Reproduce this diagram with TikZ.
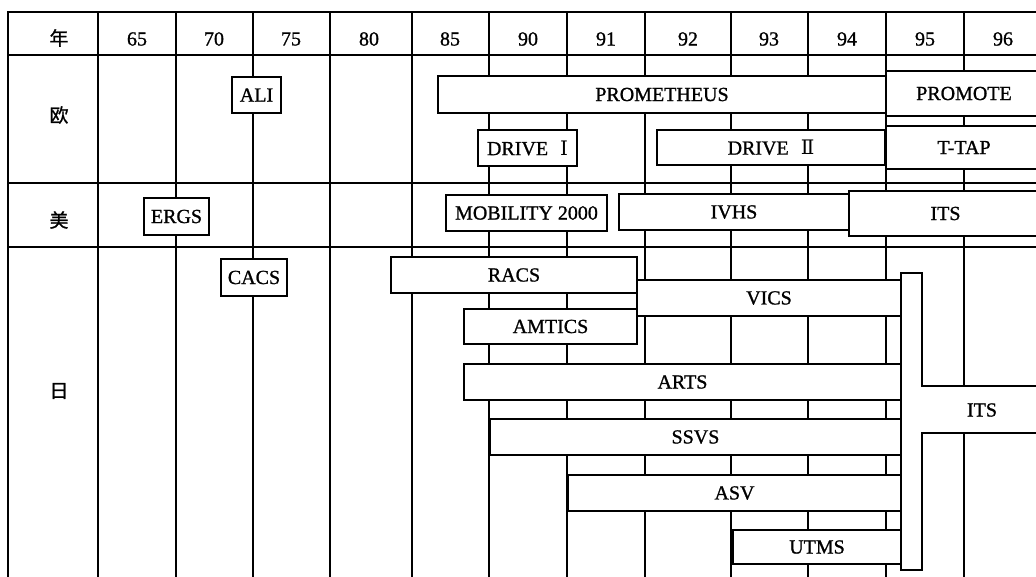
\documentclass[tikz,border=0pt]{standalone}
\usepackage{fontspec}
\setmainfont{Liberation Serif}[FakeBold=1]
\newfontfamily\cjk{Noto Sans CJK SC}[FakeBold=1.2]
\newfontfamily\numeral{DejaVu Serif}

\begin{document}
\begin{tikzpicture}[x=1pt,y=-1pt,line width=1.2pt,nodes={font=\fontsize{20}{20}\selectfont},
	box/.style={draw,fill=white,inner sep=0pt},
	head/.style={font=\cjk\fontsize{19}{19}\selectfont}]
		\useasboundingbox (0,0) rectangle (1036,577);
		\draw (8,577) -- (8,12) -- (1036,12);
		\draw (8,55) -- (1036,55);
		\draw (8,183) -- (1036,183);
		\draw (8,247) -- (1036,247);
		\foreach \x in {98,176,253,330,412,489,567,645,731,808,886,964}
			\draw (\x,12) -- (\x,577);
		\node (nian) [head] at (59,38) {年};
		\node (y65) at (137,39) {65};
		\node (y70) at (214,39) {70};
		\node (y75) at (291,39) {75};
		\node (y80) at (369,39) {80};
		\node (y85) at (450,39) {85};
		\node (y90) at (528,39) {90};
		\node (y91) at (606,39) {91};
		\node (y92) at (688,39) {92};
		\node (y93) at (769,39) {93};
		\node (y94) at (847,39) {94};
		\node (y95) at (925,39) {95};
		\node (y96) at (1003,39) {96};
		\node (ou) [head] at (59,115) {欧};
		\node (mei) [head] at (59,220) {美};
		\node (ri) [head] at (59,391) {日};
		\node (ali) [box, minimum width=49, minimum height=36] at (256.5,95) {ALI};
		\node (prometheus) [box, minimum width=448, minimum height=37] at (662,94.5) {PROMETHEUS};
		\node (drive1) [box, minimum width=99, minimum height=36] at (527.5,148) {DRIVE\hspace{12pt}{\numeral Ⅰ}};
		\node (drive2) [box, minimum width=228, minimum height=35] at (771,147.5) {DRIVE\hspace{12pt}{\numeral Ⅱ}};
		\node (promote) [box, minimum width=156, minimum height=45] at (964,93.5) {PROMOTE};
		\node (ttap) [box, minimum width=156, minimum height=43] at (964,147.5) {T-TAP};
		\node (ergs) [box, minimum width=65, minimum height=37] at (176.5,216.5) {ERGS};
		\node (mobility) [box, minimum width=161, minimum height=36] at (526.5,213) {MOBILITY 2000};
		\node (ivhs) [box, minimum width=230, minimum height=36] at (734,212) {IVHS};
		\node (itsus) [box, minimum width=193, minimum height=45] at (945.5,213.5) {ITS};
		\node (cacs) [box, minimum width=66, minimum height=37] at (254,277.5) {CACS};
		\node (racs) [box, minimum width=246, minimum height=36] at (514,275) {RACS};
		\node (vics) [box, minimum width=264, minimum height=36] at (769,298) {VICS};
		\node (amtics) [box, minimum width=173, minimum height=35] at (550.5,326.5) {AMTICS};
		\node (arts) [box, minimum width=437, minimum height=36] at (682.5,382) {ARTS};
		\node (ssvs) [box, minimum width=411, minimum height=36] at (695.5,437) {SSVS};
		\node (asv) [box, minimum width=333, minimum height=36] at (734.5,493) {ASV};
		\node (utms) [box, minimum width=168, minimum height=34] at (817,547) {UTMS};
		\draw [fill=white] (901,273) -- (922,273) -- (922,386) -- (1042,386) -- (1042,433)
			-- (922,433) -- (922,570) -- (901,570) -- cycle;
		\node (itsjp) at (982,410) {ITS};
\end{tikzpicture}
\end{document}
